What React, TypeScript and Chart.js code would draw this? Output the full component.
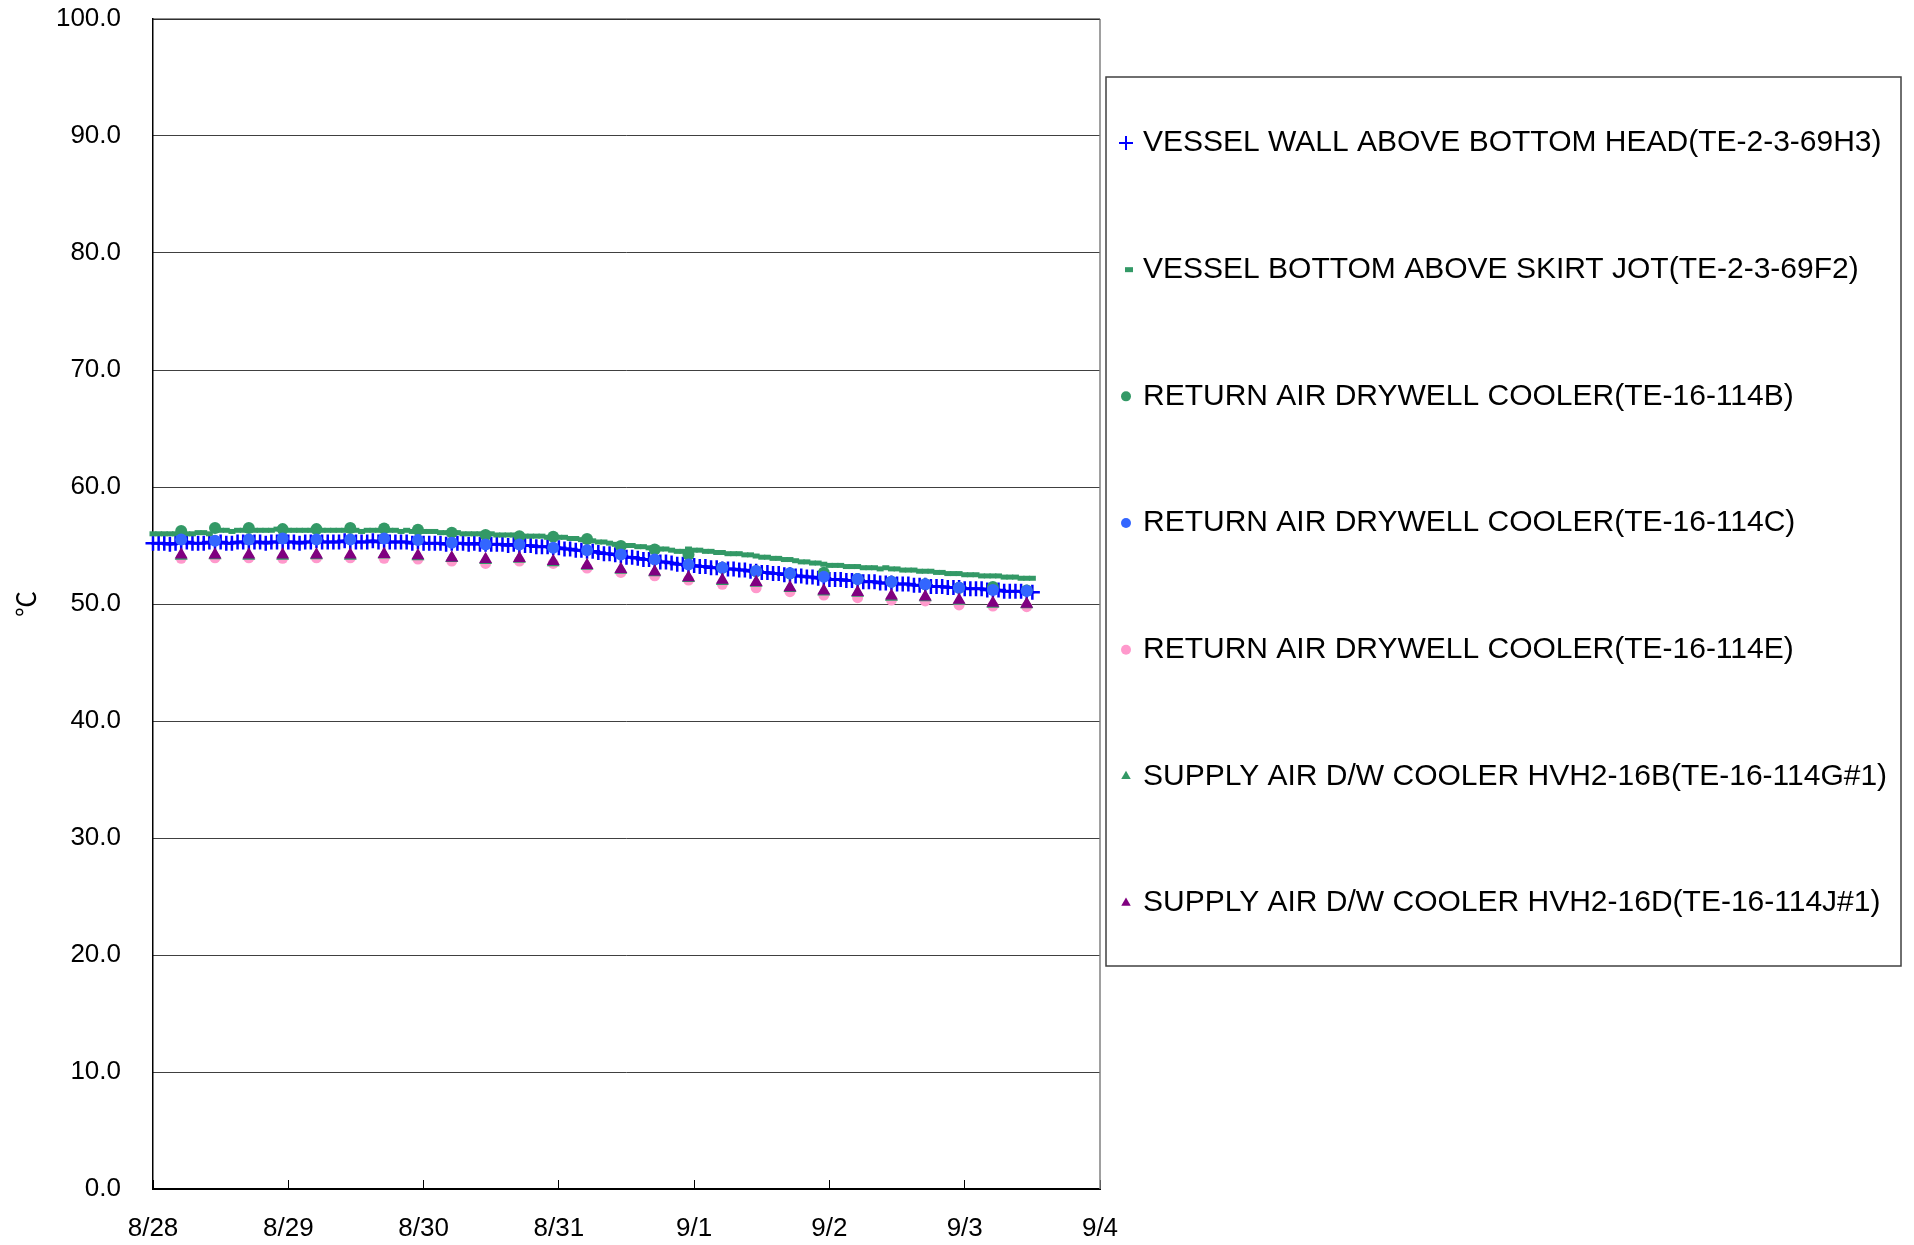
import React, { useEffect, useRef } from 'react';
import { Chart, registerables } from 'chart.js';
import { drawPoint } from 'chart.js/helpers';

Chart.register(...registerables);

// ---------- data ----------
const xTickLabels = ['8/28', '8/29', '8/30', '8/31', '9/1', '9/2', '9/3', '9/4'];
const yAxisTitle = '℃';

const seriesLabels = [
  'VESSEL WALL ABOVE BOTTOM HEAD(TE-2-3-69H3)',
  'VESSEL BOTTOM ABOVE SKIRT JOT(TE-2-3-69F2)',
  'RETURN AIR DRYWELL COOLER(TE-16-114B)',
  'RETURN AIR DRYWELL COOLER(TE-16-114C)',
  'RETURN AIR DRYWELL COOLER(TE-16-114E)',
  'SUPPLY AIR D/W COOLER HVH2-16B(TE-16-114G#1)',
  'SUPPLY AIR D/W COOLER HVH2-16D(TE-16-114J#1)',
];

// hourly readings from 8/28 00:00
const vesselWallH3 = [
  55.2, 55.2, 55.2, 55.1, 55.2, 55.2, 55.3, 55.2, 55.2, 55.2, 55.3, 55.2, 55.3, 55.2, 55.2, 55.3, 55.3, 55.2, 55.3, 55.3, 55.2, 55.3, 55.3, 55.3,
  55.3, 55.3, 55.2, 55.3, 55.3, 55.4, 55.3, 55.3, 55.3, 55.3, 55.4, 55.3, 55.3, 55.3, 55.3, 55.4, 55.3, 55.3, 55.3, 55.3, 55.3, 55.3, 55.2, 55.3,
  55.2, 55.2, 55.2, 55.2, 55.1, 55.2, 55.2, 55.2, 55.1, 55.2, 55.1, 55.1, 55.1, 55.1, 55.1, 55.0, 55.1, 55.0, 55.0, 55.0, 54.9, 54.9, 54.9, 54.8,
  54.8, 54.7, 54.7, 54.6, 54.6, 54.5, 54.5, 54.4, 54.3, 54.3, 54.2, 54.1, 54.0, 54.0, 53.9, 53.8, 53.8, 53.7, 53.6, 53.6, 53.5, 53.4, 53.4, 53.3,
  53.3, 53.2, 53.2, 53.1, 53.1, 53.0, 53.0, 53.0, 52.9, 52.9, 52.8, 52.8, 52.7, 52.7, 52.6, 52.6, 52.5, 52.5, 52.4, 52.4, 52.3, 52.3, 52.2, 52.2,
  52.1, 52.1, 52.1, 52.0, 52.0, 52.0, 51.9, 51.9, 51.9, 51.8, 51.8, 51.8, 51.7, 51.7, 51.7, 51.6, 51.6, 51.6, 51.5, 51.5, 51.5, 51.4, 51.4, 51.4,
  51.3, 51.3, 51.3, 51.3, 51.2, 51.2, 51.2, 51.1, 51.1, 51.1, 51.1, 51.0, 51.0,
];

const vesselBottomF2 = [
  56.0, 56.0, 56.0, 56.0, 56.0, 56.1, 56.0, 56.0, 56.1, 56.1, 56.0, 56.3, 56.3, 56.3, 56.2, 56.3, 56.3, 56.3, 56.3, 56.3, 56.3, 56.3, 56.4, 56.3,
  56.3, 56.3, 56.3, 56.3, 56.3, 56.4, 56.3, 56.3, 56.3, 56.3, 56.3, 56.3, 56.3, 56.2, 56.3, 56.3, 56.3, 56.3, 56.3, 56.3, 56.2, 56.3, 56.2, 56.2,
  56.2, 56.2, 56.2, 56.1, 56.1, 56.1, 56.1, 56.0, 56.0, 56.0, 56.0, 56.0, 56.0, 55.9, 55.9, 55.9, 55.9, 55.8, 55.8, 55.8, 55.8, 55.8, 55.7, 55.7,
  55.7, 55.7, 55.6, 55.6, 55.5, 55.5, 55.4, 55.3, 55.3, 55.2, 55.1, 55.1, 55.0, 55.0, 54.9, 54.9, 54.8, 54.8, 54.7, 54.7, 54.6, 54.5, 54.5, 54.7,
  54.6, 54.6, 54.5, 54.5, 54.4, 54.4, 54.3, 54.3, 54.3, 54.2, 54.2, 54.1, 54.0, 54.0, 53.9, 53.9, 53.8, 53.8, 53.7, 53.6, 53.6, 53.5, 53.5, 53.4,
  53.3, 53.3, 53.3, 53.2, 53.2, 53.2, 53.1, 53.1, 53.1, 53.0, 53.1, 53.0, 53.0, 52.9, 52.9, 52.9, 52.8, 52.8, 52.8, 52.7, 52.7, 52.6, 52.6, 52.6,
  52.5, 52.5, 52.5, 52.4, 52.4, 52.4, 52.4, 52.3, 52.3, 52.3, 52.2, 52.2, 52.2,
];

// six-hourly readings (hours after 8/28 00:00)
const sixHourTimes = [5, 11, 17, 23, 29, 35, 41, 47, 53, 59, 65, 71, 77, 83, 89, 95, 101, 107, 113, 119, 125, 131, 137, 143, 149, 155];

const returnAir114B = [56.25, 56.5, 56.5, 56.4, 56.4, 56.5, 56.45, 56.35, 56.1, 55.9, 55.8, 55.75, 55.55, 54.95, 54.65, 54.2, 53.1, 52.8, 52.6, 52.67, 52.13, 51.9, 51.68, 51.39, 51.45, 51.15];
const returnAir114C = [55.52, 55.4, 55.52, 55.6, 55.52, 55.52, 55.6, 55.46, 55.23, 55.09, 55.09, 54.8, 54.6, 54.24, 53.81, 53.38, 53.1, 52.81, 52.62, 52.33, 52.13, 51.9, 51.68, 51.39, 51.19, 51.11];
const returnAir114E = [53.9, 53.95, 53.95, 53.9, 53.95, 53.95, 53.9, 53.84, 53.67, 53.47, 53.67, 53.47, 53.07, 52.7, 52.41, 52.05, 51.68, 51.39, 51.05, 50.77, 50.54, 50.34, 50.26, 49.92, 49.83, 49.77];
const supplyAir114G = [54.1, 54.15, 54.1, 54.1, 54.15, 54.1, 54.2, 54.05, 53.9, 53.75, 53.85, 53.55, 53.25, 52.9, 52.7, 52.2, 51.95, 51.8, 51.35, 51.05, 50.95, 50.6, 50.55, 50.25, 50.0, 49.95];
const supplyAir114J = [54.2, 54.2, 54.2, 54.2, 54.2, 54.2, 54.25, 54.15, 53.95, 53.82, 53.9, 53.65, 53.32, 52.98, 52.76, 52.27, 52.05, 51.85, 51.42, 51.14, 51.0, 50.7, 50.62, 50.34, 50.08, 50.0];

// ---------- helpers ----------
const hourly = (vals: number[]) => vals.map((v, i) => ({ x: i / 24, y: v }));
const sixHourly = (vals: number[]) => vals.map((v, i) => ({ x: sixHourTimes[i] / 24, y: v }));

const FONT_FAMILY = '"Liberation Sans", Arial, Helvetica, sans-serif';

const frameAndLegend = {
  id: 'frameAndLegend',
  afterDraw(chart: any) {
    const { ctx, chartArea } = chart;
    ctx.save();
    // right border of plot
    ctx.strokeStyle = '#808080';
    ctx.lineWidth = 1.5;
    ctx.beginPath();
    ctx.moveTo(chartArea.right, chartArea.top);
    ctx.lineTo(chartArea.right, chartArea.bottom);
    ctx.stroke();
    // top border of plot
    ctx.strokeStyle = '#202020';
    ctx.lineWidth = 1.2;
    ctx.beginPath();
    ctx.moveTo(chartArea.left, chartArea.top);
    ctx.lineTo(chartArea.right, chartArea.top);
    ctx.stroke();

    // legend box
    const left = chartArea.right + 6;
    const top = chartArea.top + 58;
    const right = left + 795;
    const bottom = chartArea.top + 947;
    ctx.fillStyle = '#ffffff';
    ctx.fillRect(left, top, right - left, bottom - top);
    ctx.strokeStyle = '#404040';
    ctx.lineWidth = 1.5;
    ctx.strokeRect(left, top, right - left, bottom - top);

    const rowStep = 126.67;
    const firstRow = top + 66;
    chart.data.datasets.forEach((ds: any, i: number) => {
      const cy = firstRow + i * rowStep;
      const style = ds.pointStyle;
      let cx = left + 20;
      ctx.fillStyle = ds.pointBackgroundColor;
      ctx.strokeStyle = ds.pointBorderColor;
      ctx.lineWidth = ds.legendLineWidth;
      if (style === 'line') cx = left + 23;
      drawPoint(ctx, { pointStyle: style, radius: ds.legendRadius, rotation: 0, borderWidth: ds.legendLineWidth }, cx, cy);
      ctx.fillStyle = '#000000';
      ctx.font = `30px ${FONT_FAMILY}`;
      ctx.textAlign = 'left';
      ctx.textBaseline = 'middle';
      ctx.fillText(ds.label, left + 37, cy);
    });
    ctx.restore();
  },
};

export default function App() {
  const canvasRef = useRef<HTMLCanvasElement | null>(null);

  useEffect(() => {
    if (!canvasRef.current) return;
    const chart = new Chart(canvasRef.current, {
      type: 'line',
      data: {
        datasets: [
          {
            label: seriesLabels[0],
            data: hourly(vesselWallH3),
            borderColor: '#0000FF',
            borderWidth: 3,
            pointStyle: 'cross',
            pointRadius: 7.5,
            pointBorderWidth: 2.5,
            pointBorderColor: '#0000FF',
            pointBackgroundColor: '#0000FF',
            showLine: true,
            clip: false,
            order: 6,
            legendRadius: 7,
            legendLineWidth: 2,
          } as any,
          {
            label: seriesLabels[1],
            data: hourly(vesselBottomF2),
            borderColor: '#339966',
            pointStyle: 'line',
            pointRadius: 3.5,
            pointBorderWidth: 5,
            pointBorderColor: '#339966',
            pointBackgroundColor: '#339966',
            showLine: false,
            clip: false,
            order: 5,
            legendRadius: 4,
            legendLineWidth: 5,
          } as any,
          {
            label: seriesLabels[2],
            data: sixHourly(returnAir114B),
            pointStyle: 'circle',
            pointRadius: 6,
            pointBorderWidth: 0,
            pointBorderColor: '#339966',
            pointBackgroundColor: '#339966',
            showLine: false,
            order: 4,
            legendRadius: 5,
            legendLineWidth: 0,
          } as any,
          {
            label: seriesLabels[3],
            data: sixHourly(returnAir114C),
            pointStyle: 'circle',
            pointRadius: 6,
            pointBorderWidth: 0,
            pointBorderColor: '#3366FF',
            pointBackgroundColor: '#3366FF',
            showLine: false,
            order: 3,
            legendRadius: 5,
            legendLineWidth: 0,
          } as any,
          {
            label: seriesLabels[4],
            data: sixHourly(returnAir114E),
            pointStyle: 'circle',
            pointRadius: 5.5,
            pointBorderWidth: 0,
            pointBorderColor: '#FF99CC',
            pointBackgroundColor: '#FF99CC',
            showLine: false,
            order: 2,
            legendRadius: 5,
            legendLineWidth: 0,
          } as any,
          {
            label: seriesLabels[5],
            data: sixHourly(supplyAir114G),
            pointStyle: 'triangle',
            pointRadius: 7.5,
            pointBorderWidth: 0,
            pointBorderColor: '#339966',
            pointBackgroundColor: '#339966',
            showLine: false,
            order: 1,
            legendRadius: 5.5,
            legendLineWidth: 0,
          } as any,
          {
            label: seriesLabels[6],
            data: sixHourly(supplyAir114J),
            pointStyle: 'triangle',
            pointRadius: 7.5,
            pointBorderWidth: 0,
            pointBorderColor: '#800080',
            pointBackgroundColor: '#800080',
            showLine: false,
            order: 0,
            legendRadius: 5.5,
            legendLineWidth: 0,
          } as any,
        ],
      },
      options: {
        animation: false,
        responsive: true,
        maintainAspectRatio: false,
        events: [],
        layout: { padding: { left: 0, top: 11, right: 806, bottom: 0 } },
        plugins: {
          legend: { display: false },
          tooltip: { enabled: false },
        },
        scales: {
          x: {
            type: 'linear',
            min: 0,
            max: 7,
            afterFit: (s: any) => {
              s.height = 48;
              s.paddingLeft = 0;
              s.paddingRight = 0;
            },
            ticks: {
              stepSize: 1,
              autoSkip: false,
              maxRotation: 0,
              padding: 33,
              color: '#000000',
              font: { family: FONT_FAMILY, size: 26 },
              callback: (v: any) => xTickLabels[Math.round(Number(v))] ?? '',
            },
            grid: {
              drawOnChartArea: false,
              drawTicks: true,
              tickLength: -9,
              color: '#000000',
              lineWidth: 1,
            },
            border: { display: true, color: '#000000', width: 2 },
          },
          y: {
            type: 'linear',
            min: 0,
            max: 100,
            afterFit: (s: any) => {
              s.width = 145;
              s.paddingTop = 0;
              s.paddingBottom = 0;
            },
            ticks: {
              stepSize: 10,
              padding: 42,
              color: '#000000',
              font: { family: FONT_FAMILY, size: 26 },
              callback: (v: any) => Number(v).toFixed(1),
            },
            grid: {
              color: '#404040',
              lineWidth: 1,
              drawTicks: true,
              tickLength: -10,
            },
            border: { display: true, color: '#000000', width: 1.5 },
            title: {
              display: true,
              text: yAxisTitle,
              color: '#000000',
              font: { family: '"Noto Sans CJK JP", "DejaVu Sans", sans-serif', size: 26 },
              padding: { top: 3, bottom: 0 },
            },
          },
        },
      },
      plugins: [frameAndLegend],
    });
    return () => chart.destroy();
  }, []);

  return (
    <div style={{ position: 'relative', width: 1898, height: 1229 }}>
      <canvas ref={canvasRef} />
    </div>
  );
}
